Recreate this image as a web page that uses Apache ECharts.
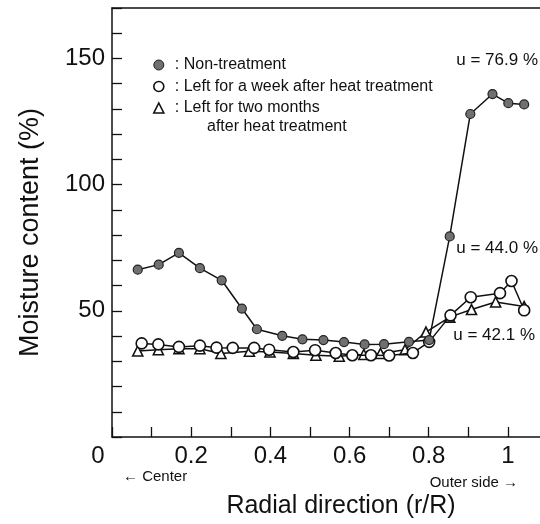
<!DOCTYPE html>
<html>
<head>
<meta charset="utf-8">
<script src="https://cdn.jsdelivr.net/npm/echarts@6/dist/echarts.min.js"></script>
<style>
  html, body { margin: 0; padding: 0; background: #fff; }
  #chart { width: 540px; height: 524px; }
</style>
</head>
<body>
<div id="chart"></div>
<script>
// radial position r/R and moisture content (%)
const nonTreatX = [0.065, 0.118, 0.169, 0.222, 0.277, 0.328, 0.366, 0.430, 0.481, 0.534, 0.586, 0.638, 0.687, 0.750, 0.801, 0.853, 0.905, 0.961, 1.001, 1.041];
const nonTreatY = [66.3, 68.3, 73.0, 66.9, 62.1, 50.9, 42.7, 40.1, 38.7, 38.4, 37.6, 36.7, 36.8, 37.7, 38.4, 79.5, 128.0, 135.9, 132.3, 131.8];

const weekX = [0.075, 0.117, 0.169, 0.222, 0.264, 0.305, 0.359, 0.397, 0.458, 0.513, 0.565, 0.607, 0.654, 0.700, 0.760, 0.801, 0.855, 0.906, 0.980, 1.009, 1.041];
const weekY = [37.1, 36.7, 35.7, 36.2, 35.4, 35.3, 35.3, 34.6, 33.7, 34.4, 33.3, 32.4, 32.4, 32.3, 33.3, 37.7, 48.2, 55.4, 57.0, 61.8, 50.2];

const monthsX = [0.065, 0.117, 0.169, 0.222, 0.275, 0.347, 0.399, 0.458, 0.515, 0.574, 0.636, 0.678, 0.740, 0.793, 0.853, 0.908, 0.969, 1.041];
const monthsY = [34.1, 34.6, 35.0, 35.0, 33.1, 34.0, 33.7, 33.1, 32.4, 32.0, 32.7, 33.1, 34.6, 41.6, 47.5, 50.5, 53.5, 51.7];

const xTickLabels = [0, 0.2, 0.4, 0.6, 0.8, 1];
const yTickLabels = [50, 100, 150];
const notes = ["u = 76.9 %", "u = 44.0 %", "u = 42.1 %"];

const FONT = "'Liberation Sans', Arial, sans-serif";

function pairs(xs, ys) {
  return xs.map((x, i) => [x, ys[i]]);
}

const chart = echarts.init(document.getElementById("chart"));

const option = {
  backgroundColor: "#fff",
  animation: false,
  textStyle: { fontFamily: FONT, color: "#111" },
  grid: { left: 112, right: 0, top: 8, bottom: 87 },
  legend: {
    orient: "vertical",
    left: 148,
    top: 51,
    itemWidth: 10,
    itemHeight: 10,
    itemGap: 3.5,
    selectedMode: false,
    textStyle: { fontSize: 16, color: "#111", lineHeight: 18, padding: [0, 0, 0, 6] },
    formatter: (name) => ": " + name,
    data: [
      { name: "Non-treatment", icon: "circle", itemStyle: { color: "#707070", borderColor: "#222", borderWidth: 1 } },
      { name: "Left for a week after heat treatment", icon: "circle", itemStyle: { color: "#fff", borderColor: "#111", borderWidth: 1.6 } },
      { name: "Left for two months", icon: "triangle", itemStyle: { color: "#fff", borderColor: "#111", borderWidth: 1.6 } },
    ],
  },
  xAxis: [
    {
      type: "value",
      min: 0,
      max: 1.081,
      interval: 0.1,
      name: "Radial direction (r/R)",
      nameLocation: "middle",
      nameGap: 57,
      nameTextStyle: { fontSize: 25, color: "#111", padding: [0, 0, 0, 30] },
      axisLine: { lineStyle: { color: "#111", width: 1.5 } },
      axisTick: { inside: true, length: 10, lineStyle: { color: "#111", width: 1.3 } },
      axisLabel: {
        fontSize: 24,
        color: "#111",
        margin: 7,
        showMaxLabel: false,
        formatter: (v) => {
          const t = Math.round(v * 10);
          if (t % 2 !== 0 || t > 10) return "";
          if (t === 0) return "{z|0}";
          return String(xTickLabels[t / 2]);
        },
        rich: { z: { fontSize: 24, color: "#111", padding: [0, 28, 0, 0] } },
      },
      splitLine: { show: false },
    },
    {
      type: "value",
      position: "top",
      min: 0,
      max: 1.081,
      axisLine: { show: true, onZero: false, lineStyle: { color: "#111", width: 1.5 } },
      axisTick: { show: false },
      axisLabel: { show: false },
      splitLine: { show: false },
    },
  ],
  yAxis: {
    type: "value",
    min: 0,
    max: 170,
    interval: 10,
    name: "Moisture content (%)",
    nameLocation: "middle",
    nameGap: 68,
    nameTextStyle: { fontSize: 27, color: "#111", padding: [0, 20, 0, 0] },
    axisLine: { show: true, lineStyle: { color: "#111", width: 1.5 } },
    axisTick: { show: true, inside: true, length: 10, lineStyle: { color: "#111", width: 1.3 } },
    axisLabel: {
      fontSize: 24,
      color: "#111",
      margin: 7,
      formatter: (v) => (yTickLabels.indexOf(v) >= 0 ? String(v) : ""),
    },
    splitLine: { show: false },
  },
  series: [
    {
      name: "Left for two months",
      type: "line",
      data: pairs(monthsX, monthsY),
      symbol: "triangle",
      symbolSize: 10,
      lineStyle: { color: "#111", width: 1.5 },
      itemStyle: { color: "#fff", borderColor: "#111", borderWidth: 1.6 },
      z: 2,
    },
    {
      name: "Left for a week after heat treatment",
      type: "line",
      data: pairs(weekX, weekY),
      symbol: "circle",
      symbolSize: 11,
      lineStyle: { color: "#111", width: 1.5 },
      itemStyle: { color: "#fff", borderColor: "#111", borderWidth: 1.6 },
      z: 3,
    },
    {
      name: "Non-treatment",
      type: "line",
      data: pairs(nonTreatX, nonTreatY),
      symbol: "circle",
      symbolSize: 9,
      lineStyle: { color: "#111", width: 1.5 },
      itemStyle: { color: "#707070", borderColor: "#222", borderWidth: 1.2 },
      z: 4,
    },
  ],
  graphic: [
    { type: "text", x: 207, y: 127, style: { text: "after heat treatment", font: "16px " + FONT, fill: "#111", textVerticalAlign: "middle" } },
    { type: "text", x: 538, y: 60, style: { text: notes[0], font: "17px " + FONT, fill: "#111", textAlign: "right", textVerticalAlign: "middle" } },
    { type: "text", x: 538, y: 248, style: { text: notes[1], font: "17px " + FONT, fill: "#111", textAlign: "right", textVerticalAlign: "middle" } },
    { type: "text", x: 535, y: 335, style: { text: notes[2], font: "17px " + FONT, fill: "#111", textAlign: "right", textVerticalAlign: "middle" } },
    { type: "text", x: 123, y: 477, style: { text: "\u2190 Center", font: "15px " + FONT, fill: "#111", textVerticalAlign: "middle" } },
    { type: "text", x: 518, y: 483, style: { text: "Outer side \u2192", font: "15px " + FONT, fill: "#111", textAlign: "right", textVerticalAlign: "middle" } },
  ],
};

chart.setOption(option);
window.addEventListener("resize", () => chart.resize());
</script>
</body>
</html>
